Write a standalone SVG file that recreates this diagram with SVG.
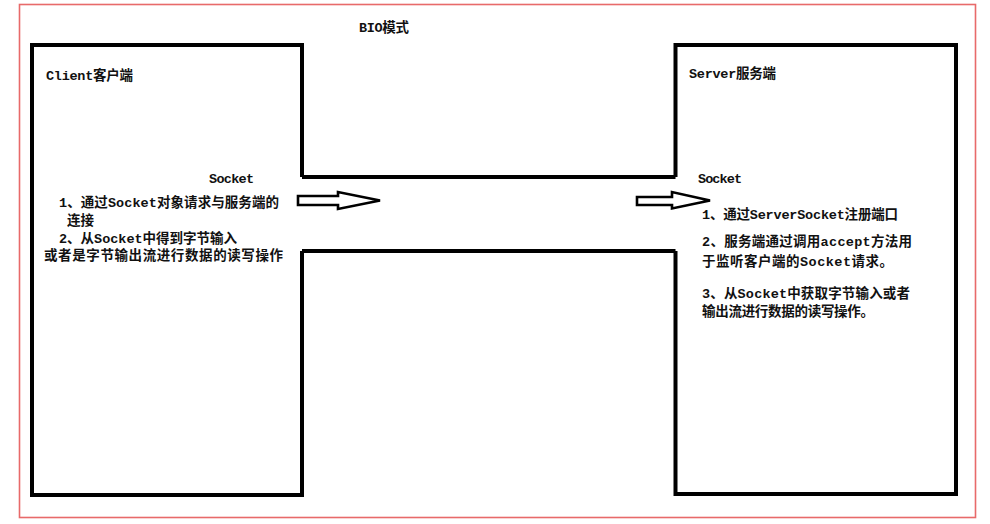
<svg xmlns="http://www.w3.org/2000/svg" width="990" height="524" viewBox="0 0 990 524">
<style>
.frame{fill:none;stroke:#e86a6a;stroke-width:1.6}
.box{fill:none;stroke:#000;stroke-width:4;stroke-linejoin:miter}
.pipe{fill:none;stroke:#000;stroke-width:4}
.arrow{fill:#fff;stroke:#000;stroke-width:2.6;stroke-linejoin:miter}
text{font-family:"Liberation Mono","Noto Sans CJK SC",monospace;font-size:13.5px;font-weight:bold;fill:#111}
</style>
<rect width="990" height="524" fill="#fff"/>
<rect class="frame" x="19.5" y="4.5" width="956" height="513"/>
<text id="title" x="359" y="32" textLength="50">BIO模式</text>
<g id="client">
<path class="box" d="M302 177 V45 H32 V495 H302 V251"/>
<text x="46" y="79.5" textLength="87">Client客户端</text>
<text x="209" y="183" textLength="45">Socket</text>
<text x="59" y="207" textLength="220">1、通过Socket对象请求与服务端的</text>
<text x="67" y="225" textLength="27">连接</text>
<text x="59" y="242.5" textLength="178">2、从Socket中得到字节输入</text>
<text x="44" y="260" textLength="239">或者是字节输出流进行数据的读写操作</text>
</g>
<g id="server">
<path class="box" d="M675.5 177 V45 H956 V494 H675.5 V251"/>
<text x="689" y="78" textLength="87">Server服务端</text>
<text x="698" y="183" textLength="44">Socket</text>
<text x="702" y="219" textLength="196">1、通过ServerSocket注册端口</text>
<text x="702" y="246" textLength="210">2、服务端通过调用accept方法用</text>
<text x="702" y="266" textLength="191">于监听客户端的Socket请求。</text>
<text x="702" y="298" textLength="208">3、从Socket中获取字节输入或者</text>
<text x="702" y="316" textLength="172">输出流进行数据的读写操作。</text>
</g>
<g id="connectors">
<path class="pipe" d="M302 177 H675.5"/>
<path class="pipe" d="M302 251 H675.5"/>
<polygon class="arrow" points="298,196 338,196 338,192 380,200.5 338,209 338,205 298,205"/>
<polygon class="arrow" points="637,197 672,197 672,192 710,200.5 672,208.5 672,205 637,205"/>
</g>
</svg>
